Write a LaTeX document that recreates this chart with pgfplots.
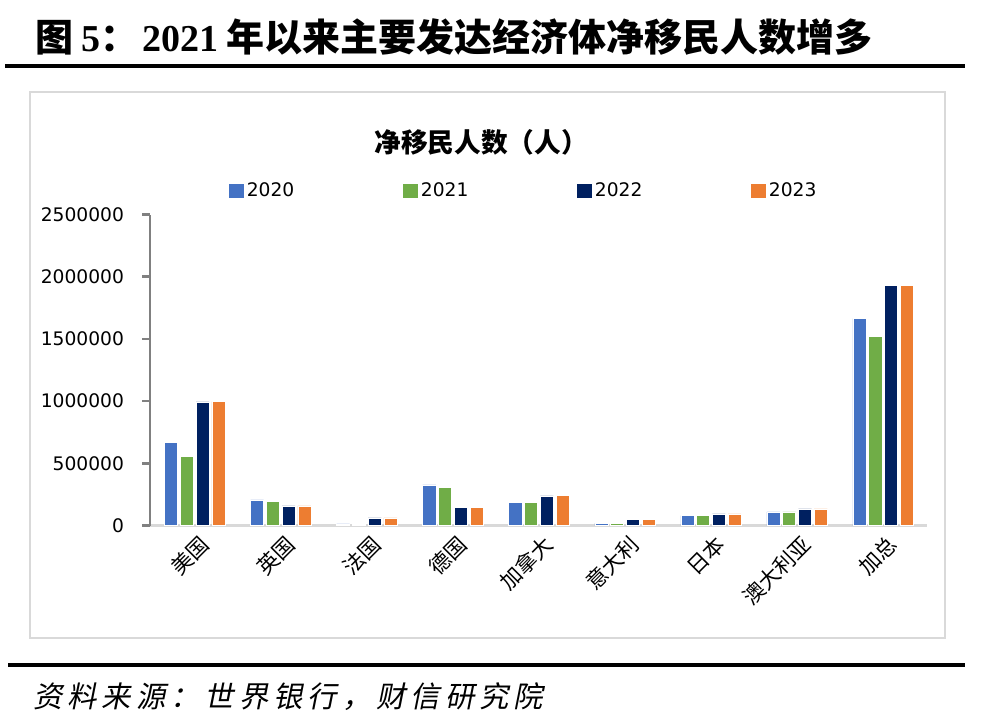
\documentclass[border=0pt]{standalone}
\usepackage{pgfplots}
\pgfplotsset{compat=1.18}
\usepackage{fontspec}
\newfontfamily\cjk{Noto Sans CJK SC}
\newfontfamily\cjkit[FakeSlant=0.2,LetterSpace=17]{Noto Sans CJK SC}
\newfontfamily\tnr{Liberation Serif}
\newfontfamily\dv{DejaVu Sans}
\definecolor{c20}{HTML}{4472C4}
\definecolor{c21}{HTML}{70AD47}
\definecolor{c22}{HTML}{002060}
\definecolor{c23}{HTML}{ED7D31}
\definecolor{frame}{HTML}{D9D9D9}
\definecolor{yax}{HTML}{808080}
\begin{document}
\begin{tikzpicture}
\begin{scope}[x=0.75pt,y=0.75pt]
\useasboundingbox (0,0) rectangle (987,723);
% title
\node[anchor=west,inner sep=0pt] at (35,686) {\cjk\bfseries\fontsize{28.5}{31}\selectfont 图\hspace{6pt}{\tnr\bfseries 5}：\hspace{3pt}{\tnr\bfseries 2021}\hspace{6pt}年以来主要发达经济体净移民人数增多};
\draw[line width=3pt] (5,657) -- (965,657);
% frame
\draw[frame,line width=2.2pt] (30,631) rectangle (945,85);
% chart title
\node at (481,581) {\cjk\bfseries\fontsize{20}{23}\selectfont 净移民人数（人）};
% bottom rule & source
\draw[line width=2.5pt] (8,58) -- (965,58);
\node[anchor=west,inner sep=0pt] at (33,26) {\cjkit\fontsize{22}{25}\selectfont 资料来源：世界银行，财信研究院};
\end{scope}
\begin{axis}[
  at={(112.5pt,148.1pt)}, anchor=south west,
  scale only axis, width=582.75pt, height=233.25pt,
  xmin=-0.52, xmax=8.51, ymin=0, ymax=2500000,
  axis x line=bottom, axis y line=left,
  x axis line style={-,draw=frame,line width=2.2pt},
  y axis line style={-,draw=yax,line width=2pt},
  xtick={0,...,8},
  xticklabels={美国,英国,法国,德国,加拿大,意大利,日本,澳大利亚,加总},
  xtick style={draw=none},
  xticklabel style={font=\cjk\fontsize{16}{18}\selectfont, rotate=45, anchor=east, inner sep=1pt, yshift=-9pt, xshift=3pt},
  ytick={0,500000,1000000,1500000,2000000,2500000},
  ytick style={draw=yax,line width=2pt},
  tick align=outside, major tick length=6pt,
  scaled y ticks=false,
  yticklabel style={font=\dv\fontsize{14}{16}\selectfont, xshift=-10pt},
  /pgf/number format/.cd, fixed, 1000 sep={}, assume math mode=true,
  /pgfplots/.cd,
  legend columns=4,
  legend style={draw=none, fill=none, at={(0.481,1.0756)}, anchor=center,
    font=\dv\fontsize{14}{16}\selectfont,
    /tikz/every even column/.append style={column sep=79pt}},
  legend image code/.code={\fill[#1] (0pt,-5.75pt) rectangle (11.5pt,5.75pt);},
  clip=false,
]
\addplot[ybar, bar width=0.152, bar shift=-0.275, fill=c20, draw=white, line width=0.4pt] coordinates {(0,670000) (1,207000) (2,14000) (3,327000) (4,187000) (5,19000) (6,80000) (7,110000) (8,1664000)};
\addplot[ybar, bar width=0.152, bar shift=-0.0917, fill=c21, draw=white, line width=0.4pt] coordinates {(0,555000) (1,195000) (2,10000) (3,305000) (4,187000) (5,17000) (6,80000) (7,110000) (8,1522000)};
\addplot[ybar, bar width=0.152, bar shift=0.0917, fill=c22, draw=white, line width=0.4pt] coordinates {(0,994000) (1,158000) (2,62000) (3,147000) (4,239000) (5,51000) (6,94000) (7,134000) (8,1929000)};
\addplot[ybar, bar width=0.152, bar shift=0.275, fill=c23, draw=white, line width=0.4pt] coordinates {(0,996000) (1,158000) (2,62000) (3,147000) (4,243000) (5,51000) (6,94000) (7,134000) (8,1931000)};
\legend{2020,2021,2022,2023}
\end{axis}
\end{tikzpicture}
\end{document}
